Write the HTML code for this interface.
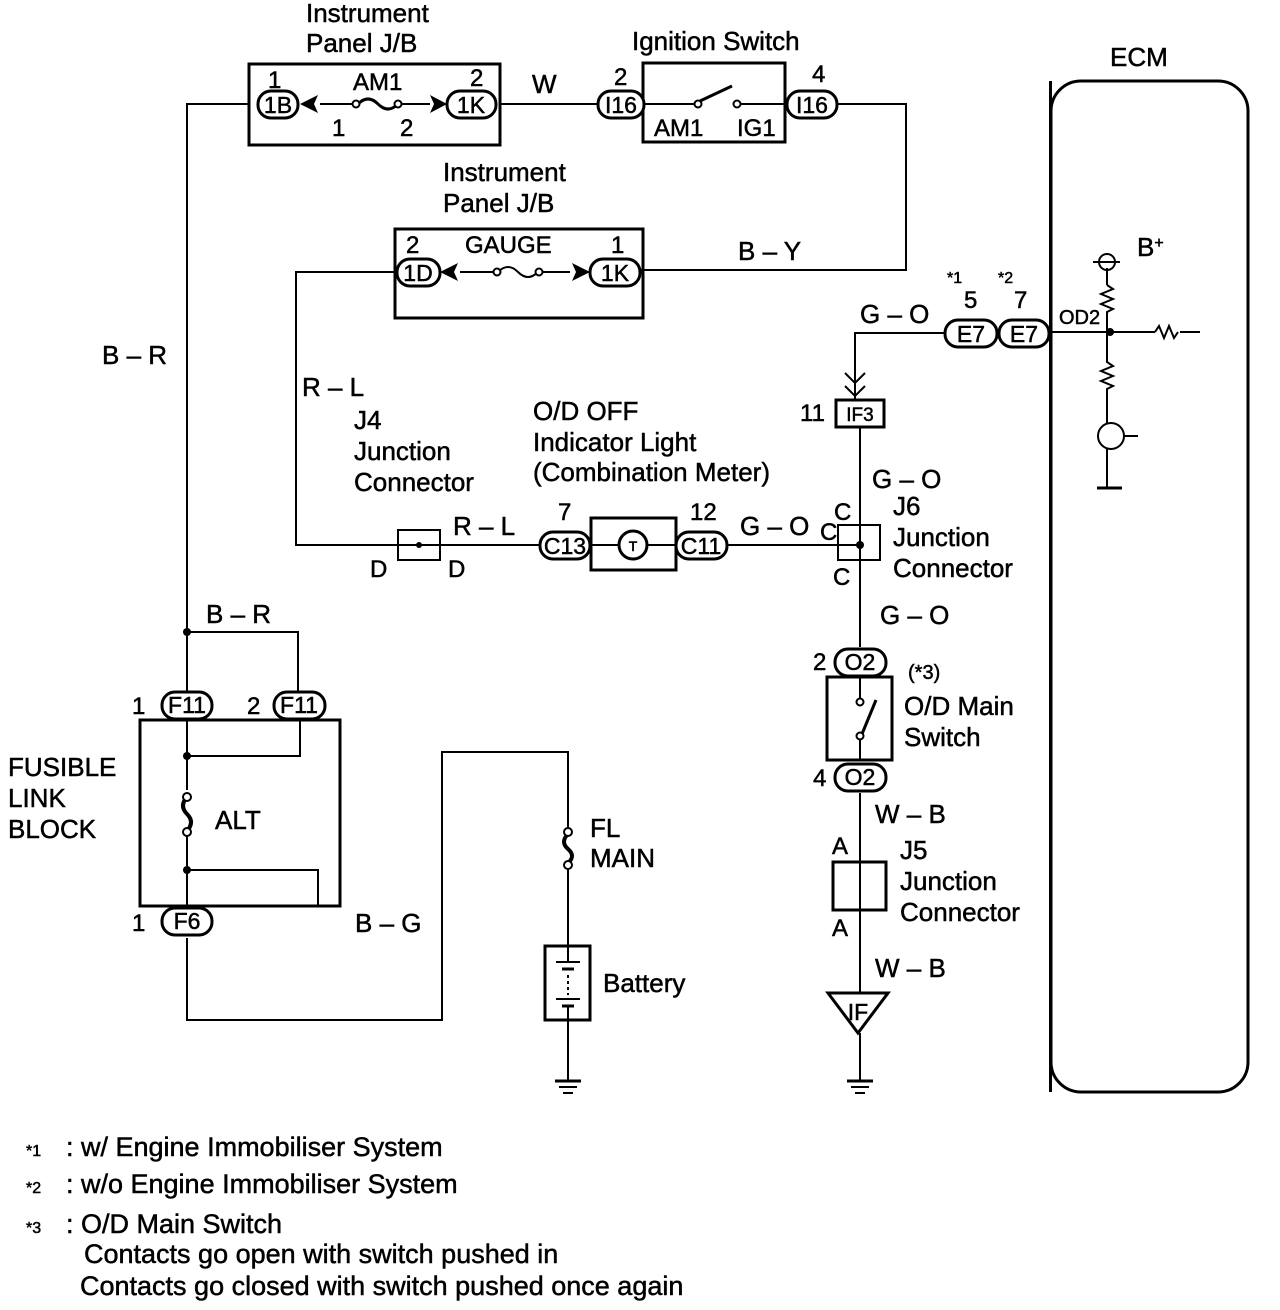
<!DOCTYPE html>
<html><head><meta charset="utf-8"><style>
html,body{margin:0;padding:0;background:#fff}
svg{display:block}
text{font-family:"Liberation Sans",sans-serif;fill:#000;stroke:#000;stroke-width:0.5}
.t{font-size:26px}
</style></head><body>
<svg width="1280" height="1310" viewBox="0 0 1280 1310" xmlns="http://www.w3.org/2000/svg">
<g fill="none" stroke="#000" stroke-width="2">
<polyline points="249,104 187,104 187,705"/>
<line x1="500" y1="104" x2="598" y2="104"/>
<polyline points="837,104 906,104 906,270 641,270"/>
<polyline points="397,272 296,272 296,545 540,545"/>
<line x1="727" y1="545" x2="860" y2="545"/>
<polyline points="187,632 298,632 298,706"/>
<polyline points="945,333 855,333 855,400"/>
<line x1="860" y1="427" x2="860" y2="647"/>
<line x1="860" y1="793" x2="860" y2="993"/>
<line x1="860" y1="1033" x2="860" y2="1080"/>
<polyline points="187,938 187,1020 442,1020 442,752 568,752 568,830"/>
<line x1="568" y1="865" x2="568" y2="946"/>
<line x1="568" y1="1020" x2="568" y2="1080"/>
<line x1="187" y1="720" x2="187" y2="790"/>
<line x1="187" y1="835" x2="187" y2="906"/>
<polyline points="187,756 300,756 300,720"/>
<polyline points="187,870 318,870 318,906"/>
</g>
<g fill="none" stroke="#000" stroke-width="3">
<rect x="249" y="64" width="251" height="81"/>
<rect x="643" y="63" width="142" height="79"/>
<rect x="395" y="229" width="248" height="89"/>
<rect x="398" y="530" width="42" height="30" stroke-width="2"/>
<rect x="591" y="518" width="85" height="52"/>
<rect x="838" y="525" width="42" height="35" stroke-width="2"/>
<rect x="836" y="400" width="48" height="27"/>
<rect x="827" y="677" width="65" height="83"/>
<rect x="833" y="862" width="53" height="48"/>
<rect x="140" y="720" width="200" height="186"/>
<rect x="545" y="946" width="45" height="74"/>
<rect x="1051" y="81" width="197" height="1011" rx="30"/>
<polygon points="828,993 888,993 858,1033"/>
</g>
<g fill="#fff" stroke="#000" stroke-width="3">
<rect x="258" y="91" width="40" height="27" rx="13"/>
<rect x="447" y="91" width="49" height="27" rx="13"/>
<rect x="598" y="91" width="46" height="27" rx="13"/>
<rect x="787" y="91" width="50" height="27" rx="13"/>
<rect x="397" y="259" width="43" height="27" rx="13"/>
<rect x="590" y="259" width="50" height="27" rx="13"/>
<rect x="945" y="320" width="52" height="27" rx="13"/>
<rect x="999" y="320" width="50" height="27" rx="13"/>
<rect x="540" y="532" width="50" height="27" rx="13"/>
<rect x="676" y="532" width="51" height="27" rx="13"/>
<rect x="835" y="649" width="51" height="27" rx="13"/>
<rect x="835" y="764" width="51" height="27" rx="13"/>
<rect x="162" y="692" width="50" height="27" rx="13"/>
<rect x="274" y="692" width="51" height="27" rx="13"/>
<rect x="162" y="908" width="50" height="27" rx="13"/>
</g>
<g stroke="#000" stroke-width="2" fill="none">
<line x1="320" y1="104" x2="355" y2="104"/><line x1="400" y1="104" x2="430" y2="104"/>
<path d="M358,104 q10,-10 20,0 t20,0" stroke-width="3"/>
<circle cx="356" cy="104" r="3.5" fill="#fff"/><circle cx="398" cy="104" r="3.5" fill="#fff"/>
<line x1="460" y1="272" x2="495" y2="272"/><line x1="540" y1="272" x2="570" y2="272"/>
<path d="M498,272 q10,-10 20,0 t20,0"/>
<circle cx="497" cy="272" r="3.5" fill="#fff"/><circle cx="539" cy="272" r="3.5" fill="#fff"/>
<line x1="644" y1="104" x2="695" y2="104"/><line x1="740" y1="104" x2="787" y2="104"/>
<line x1="700" y1="101" x2="732" y2="86" stroke-width="3"/>
<circle cx="698" cy="104" r="3.5" fill="#fff"/><circle cx="737" cy="104" r="3.5" fill="#fff"/>
<line x1="590" y1="545" x2="676" y2="545"/>
<circle cx="633" cy="545" r="14" fill="#fff" stroke-width="3"/>
<line x1="860" y1="676" x2="860" y2="698"/><line x1="860" y1="740" x2="860" y2="760"/>
<line x1="862" y1="734" x2="876" y2="700" stroke-width="3"/>
<circle cx="860" cy="702" r="3.5" fill="#fff"/><circle cx="860" cy="736" r="3.5" fill="#fff"/>
<path d="M187,797 q-8,9 0,17 q8,8 0,17" stroke-width="4"/>
<circle cx="187" cy="797" r="4" fill="#fff"/><circle cx="187" cy="832" r="4" fill="#fff"/>
<path d="M568,834 q-8,8 0,15 q8,7 0,14" stroke-width="4"/>
<circle cx="568" cy="832" r="4" fill="#fff"/><circle cx="568" cy="865" r="4" fill="#fff"/>
<line x1="568" y1="946" x2="568" y2="962"/>
<line x1="556" y1="962" x2="580" y2="962"/><line x1="562" y1="969" x2="574" y2="969" stroke-width="3"/>
<line x1="568" y1="975" x2="568" y2="995" stroke-dasharray="3,3"/>
<line x1="556" y1="999" x2="580" y2="999"/><line x1="562" y1="1006" x2="574" y2="1006" stroke-width="3"/>
<line x1="568" y1="1006" x2="568" y2="1020"/>
<line x1="555" y1="1081" x2="581" y2="1081" stroke-width="3"/><line x1="559" y1="1087" x2="577" y2="1087"/><line x1="563" y1="1093" x2="573" y2="1093"/>
<line x1="847" y1="1081" x2="873" y2="1081" stroke-width="3"/><line x1="851" y1="1087" x2="869" y2="1087"/><line x1="855" y1="1093" x2="865" y2="1093"/>
<polyline points="845,373 855,383 865,373"/><polyline points="845,386 855,396 865,386"/>
<line x1="1049" y1="332" x2="1155" y2="332"/><line x1="1180" y1="332" x2="1200" y2="332"/>
<path d="M1155,332 l4,-6 l5,12 l5,-12 l5,12 l4,-6"/>
<line x1="1107" y1="268" x2="1107" y2="285"/>
<path d="M1107,285 l6,4 l-12,5 l12,5 l-12,5 l12,5 l-6,3 v20"/>
<path d="M1107,332 v30 l6,4 l-12,5 l12,5 l-12,5 l12,5 l-6,3 v35"/>
<circle cx="1111" cy="436" r="13"/><line x1="1124" y1="436" x2="1138" y2="436"/>
<circle cx="1107" cy="262" r="8"/><line x1="1093" y1="262" x2="1120" y2="262"/>
<line x1="1107" y1="449" x2="1107" y2="488"/>
<line x1="1097" y1="488" x2="1122" y2="488" stroke-width="3"/>
</g>
<g fill="#000">
<circle cx="187" cy="632" r="4"/><circle cx="187" cy="756" r="4"/><circle cx="187" cy="870" r="4"/>
<circle cx="419" cy="545" r="3"/><circle cx="860" cy="545" r="4"/><circle cx="1110" cy="332" r="4"/>
<polygon points="300,104 318,95 314,104 318,113"/>
<polygon points="447,104 430,95 434,104 430,113"/>
<polygon points="440,272 458,263 454,272 458,281"/>
<polygon points="590,272 572,263 576,272 572,281"/>
<rect x="1049" y="81" width="3" height="1011"/>
</g>
<g text-anchor="middle">
<text x="278" y="113" style="font-size:23px">1B</text>
<text x="471" y="113" style="font-size:23px">1K</text>
<text x="621" y="113" style="font-size:23px">I16</text>
<text x="812" y="113" style="font-size:23px">I16</text>
<text x="418" y="281" style="font-size:23px">1D</text>
<text x="615" y="281" style="font-size:23px">1K</text>
<text x="971" y="342" style="font-size:23px">E7</text>
<text x="1024" y="342" style="font-size:23px">E7</text>
<text x="860" y="421" style="font-size:19px">IF3</text>
<text x="565" y="554" style="font-size:23px">C13</text>
<text x="701" y="554" style="font-size:23px">C11</text>
<text x="860" y="670" style="font-size:23px">O2</text>
<text x="860" y="785" style="font-size:23px">O2</text>
<text x="187" y="713" style="font-size:23px">F11</text>
<text x="299" y="713" style="font-size:23px">F11</text>
<text x="187" y="929" style="font-size:23px">F6</text>
<text x="858" y="1020" style="font-size:23px">IF</text>
<text x="633" y="551" style="font-size:14px">T</text>
</g>
<g class="t">
<text x="306" y="22">Instrument</text><text x="306" y="52">Panel J/B</text>
<text x="632" y="50">Ignition Switch</text>
<text x="1110" y="66">ECM</text>
<text x="268" y="88" style="font-size:24px">1</text><text x="353" y="90" style="font-size:24px">AM1</text><text x="470" y="86" style="font-size:24px">2</text>
<text x="332" y="136" style="font-size:24px">1</text><text x="400" y="136" style="font-size:24px">2</text>
<text x="532" y="93">W</text>
<text x="614" y="85" style="font-size:24px">2</text><text x="812" y="82" style="font-size:24px">4</text>
<text x="654" y="136" style="font-size:24px">AM1</text><text x="737" y="136" style="font-size:24px">IG1</text>
<text x="443" y="181">Instrument</text><text x="443" y="212">Panel J/B</text>
<text x="406" y="253" style="font-size:24px">2</text><text x="465" y="253" style="font-size:24px">GAUGE</text><text x="611" y="253" style="font-size:24px">1</text>
<text x="738" y="260">B – Y</text>
<text x="102" y="364">B – R</text>
<text x="302" y="396">R – L</text>
<text x="354" y="429">J4</text><text x="354" y="460">Junction</text><text x="354" y="491">Connector</text>
<text x="533" y="420">O/D OFF</text><text x="533" y="451">Indicator Light</text><text x="533" y="481">(Combination Meter)</text>
<text x="860" y="323">G – O</text>
<text x="947" y="283" style="font-size:16px">*1</text><text x="998" y="283" style="font-size:16px">*2</text>
<text x="964" y="308" style="font-size:24px">5</text><text x="1014" y="308" style="font-size:24px">7</text>
<text x="1059" y="324" style="font-size:20px">OD2</text>
<text x="1137" y="256">B<tspan font-size="16" dy="-8">+</tspan></text>
<text x="800" y="421" style="font-size:24px">11</text>
<text x="872" y="488">G – O</text>
<text x="893" y="515">J6</text><text x="893" y="546">Junction</text><text x="893" y="577">Connector</text>
<text x="834" y="520" style="font-size:24px">C</text><text x="820" y="540" style="font-size:24px">C</text><text x="833" y="585" style="font-size:24px">C</text>
<text x="880" y="624">G – O</text>
<text x="453" y="535">R – L</text>
<text x="370" y="577" style="font-size:24px">D</text><text x="448" y="577" style="font-size:24px">D</text>
<text x="558" y="520" style="font-size:24px">7</text><text x="690" y="520" style="font-size:24px">12</text>
<text x="740" y="535">G – O</text>
<text x="206" y="623">B – R</text>
<text x="132" y="714" style="font-size:24px">1</text><text x="247" y="714" style="font-size:24px">2</text>
<text x="813" y="670" style="font-size:24px">2</text><text x="813" y="786" style="font-size:24px">4</text>
<text x="908" y="679" style="font-size:20px">(*3)</text>
<text x="904" y="715">O/D Main</text><text x="904" y="746">Switch</text>
<text x="875" y="823">W – B</text>
<text x="832" y="854" style="font-size:24px">A</text><text x="832" y="936" style="font-size:24px">A</text>
<text x="900" y="859">J5</text><text x="900" y="890">Junction</text><text x="900" y="921">Connector</text>
<text x="875" y="977">W – B</text>
<text x="8" y="776">FUSIBLE</text><text x="8" y="807">LINK</text><text x="8" y="838">BLOCK</text>
<text x="215" y="829">ALT</text>
<text x="132" y="931" style="font-size:24px">1</text>
<text x="355" y="932">B – G</text>
<text x="590" y="837">FL</text><text x="590" y="867">MAIN</text>
<text x="603" y="992">Battery</text>
<text x="26" y="1156" style="font-size:16px">*1</text><text x="66" y="1156" style="font-size:27px">: w/ Engine Immobiliser System</text>
<text x="26" y="1193" style="font-size:16px">*2</text><text x="66" y="1193" style="font-size:27px">: w/o Engine Immobiliser System</text>
<text x="26" y="1233" style="font-size:16px">*3</text><text x="66" y="1233" style="font-size:27px">: O/D Main Switch</text>
<text x="84" y="1263" style="font-size:27px">Contacts go open with switch pushed in</text>
<text x="80" y="1295" style="font-size:27px">Contacts go closed with switch pushed once again</text>
</g>
</svg>
</body></html>
